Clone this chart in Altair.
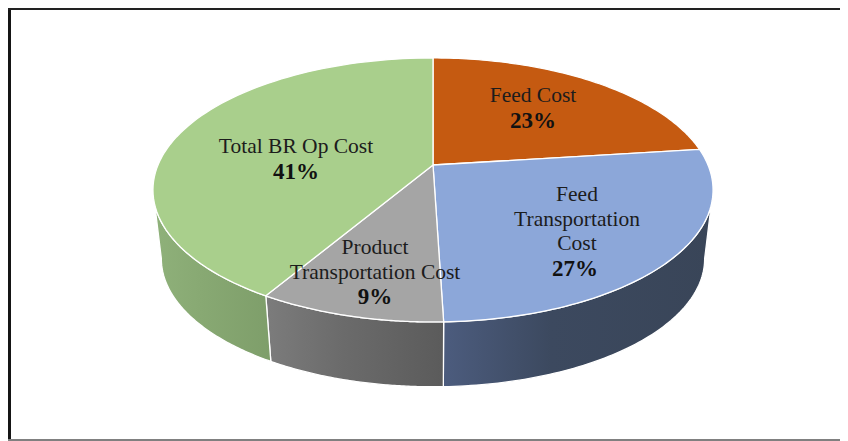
import math
import altair as alt
import pandas as pd

# ---- values ----
categories = ["Feed Cost", "Feed Transportation Cost", "Product Transportation Cost", "Total BR Op Cost"]
shares = [23.0, 26.5, 9.0, 41.5]
pct_labels = ["23%", "27%", "9%", "41%"]
label_lines = [["Feed Cost"], ["Feed", "Transportation", "Cost"], ["Product", "Transportation Cost"], ["Total BR Op Cost"]]
top_colors = ["#C55A11", "#8CA7D9", "#A5A5A5", "#A9CF8C"]
wall_stops = [None, ("#4C5C7E", "#3C495F", "#394558"), ("#7C7C7C", "#6C6C6C", "#5B5B5B"), ("#8FB17A", "#88A973", "#7E9E6A")]

# ---- layout of the drawing (page pixels) ----
W, H = 832, 433
CX, CY, A, B, K = 433.0, 165.0, 127.3, 275.0, 0.189
WALL_S, WALL_DY = 0.97, 69.5
label_first_line = [(533, 96), (577, 195), (375, 248), (296, 147)]
line_step = [24.5, 24.5, 24.5, 24.5]
FONT = "Liberation Serif"

x_scale = alt.Scale(domain=[8, 8 + W], range=[0, W], nice=False, zero=False)
y_scale = alt.Scale(domain=[8, 8 + H], range=[0, H], nice=False, zero=False)
X = alt.X("x:Q", scale=x_scale, axis=None)
Y = alt.Y("y:Q", scale=y_scale, axis=None)


def rim(t_deg, s=1.0, dy=0.0):
    t = math.radians(t_deg)
    d = 1 + K * math.cos(t)
    return CX + s * B * math.sin(t) / d, CY + s * A * (-math.cos(t)) / d + dy


def steps(a, b, n=80):
    return [a + (b - a) * i / n for i in range(n + 1)]


def polygon(points):
    rows = [{"x": p[0], "y": p[1], "i": i} for i, p in enumerate(points + points[:1])]
    return pd.DataFrame(rows)


def shape(points, fill, stroke_width=1.3):
    return alt.Chart(polygon(points)).mark_line(
        fill=fill, color="white", strokeWidth=stroke_width, strokeJoin="round", interpolate="linear"
    ).encode(x=X, y=Y, order=alt.Order("i:Q"))


cuts = [0.0]
for v in shares:
    cuts.append(cuts[-1] + v * 3.6)

tmin = math.degrees(math.acos(-K))
tmax = 360 - tmin
layers = []

# side walls
for i, stops in enumerate(wall_stops):
    a, b = max(cuts[i], tmin), min(cuts[i + 1], tmax)
    if stops is None or a >= b:
        continue
    ts = steps(a, b)
    pts = [rim(t) for t in ts] + [rim(t, WALL_S, WALL_DY) for t in reversed(ts)]
    grad = alt.Gradient(
        gradient="linear", x1=0, x2=1, y1=0, y2=0,
        stops=[alt.GradientStop(color=stops[0], offset=0),
               alt.GradientStop(color=stops[1], offset=0.4),
               alt.GradientStop(color=stops[2], offset=1)],
    )
    layers.append(shape(pts, grad))

# top face
for i, c in enumerate(top_colors):
    pts = [(CX, CY)] + [rim(t) for t in steps(cuts[i], cuts[i + 1])]
    layers.append(shape(pts, c))

# labels
rows = []
for i, lines in enumerate(label_lines):
    x0, y0 = label_first_line[i]
    for j, line in enumerate(lines):
        rows.append({"x": x0, "y": y0 + j * line_step[i], "t": line, "w": "normal"})
    rows.append({"x": x0 - (2 if i == 1 else 0), "y": y0 + len(lines) * line_step[i], "t": pct_labels[i], "w": "bold"})
labels = pd.DataFrame(rows)
layers.append(
    alt.Chart(labels[labels.w == "normal"]).mark_text(font=FONT, fontSize=21.5, color="#1c1c1c", align="center", baseline="middle").encode(x=X, y=Y, text="t:N")
)
layers.append(
    alt.Chart(labels[labels.w == "bold"]).mark_text(font=FONT, fontSize=23, fontWeight="bold", color="#111111", align="center", baseline="middle").encode(x=X, y=Y, text="t:N")
)

# picture frame
frame = pd.DataFrame([
    {"x": 9.5, "x2": 9.5, "y": 8, "y2": 441, "c": "#151515", "s": 3},
    {"x": 8, "x2": 840, "y": 9, "y2": 9, "c": "#222222", "s": 2},
    {"x": 8, "x2": 840, "y": 440, "y2": 440, "c": "#808080", "s": 2},
])
for _, r in frame.iterrows():
    layers.append(
        alt.Chart(pd.DataFrame([r])).mark_rule(color=r.c, strokeWidth=float(r.s)).encode(x=X, y=Y, x2="x2:Q", y2="y2:Q")
    )

chart = alt.layer(*layers).properties(width=W, height=H, padding=0, autosize=alt.AutoSizeParams(type="none")).configure_view(stroke=None)
chart.save("out.html", embed_options={"renderer": "svg", "actions": False})
